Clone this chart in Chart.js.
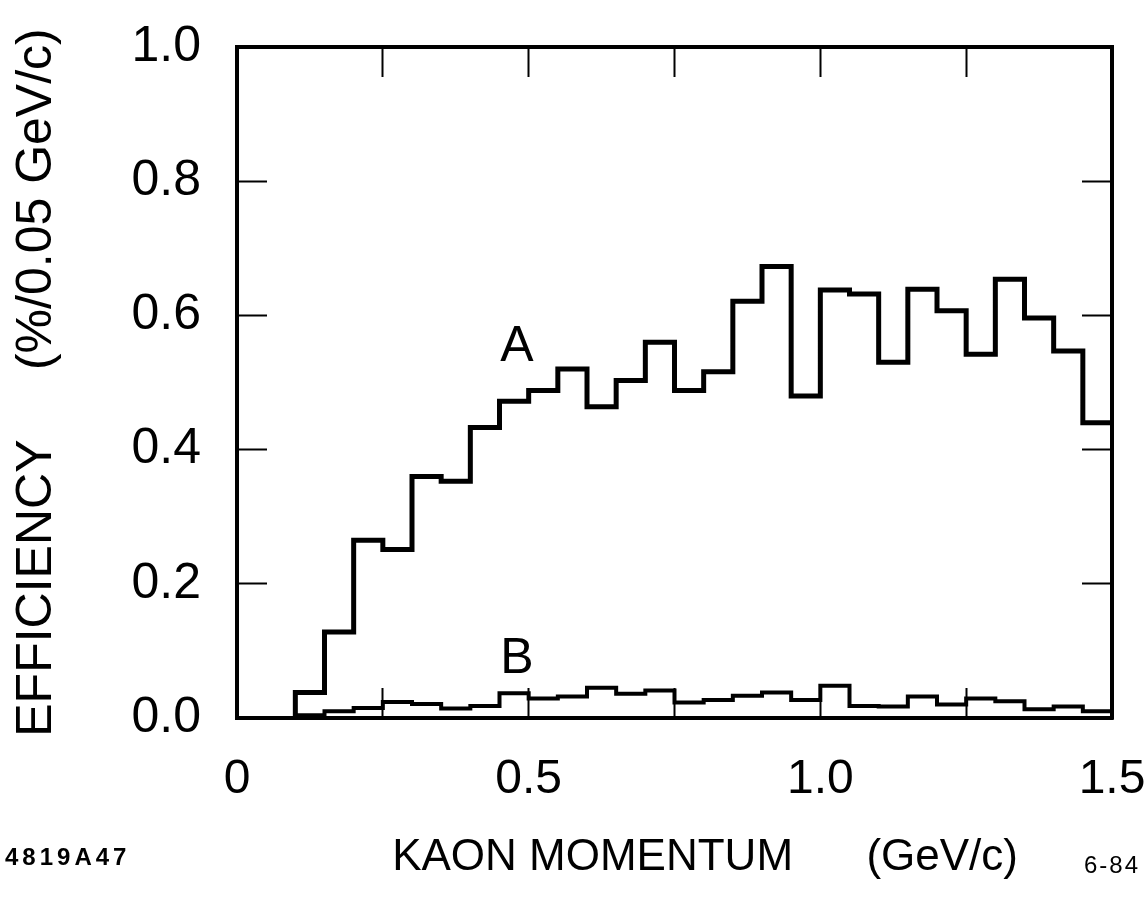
<!DOCTYPE html>
<html>
<head>
<meta charset="utf-8">
<title>Kaon momentum efficiency</title>
<script src="https://cdn.jsdelivr.net/npm/chart.js@4.4.1/dist/chart.umd.min.js"></script>
<style>
  html, body { margin: 0; padding: 0; background: #fff; }
  canvas { display: block; }
</style>
</head>
<body>
<canvas id="chart" width="1146" height="897"></canvas>
<script>
// ─── Data ─────────────────────────────────────────────────────────────────────

// lower edges of the 0.05 GeV/c bins, plus the last upper edge
const BIN_EDGES = [0.10, 0.15, 0.20, 0.25, 0.30, 0.35, 0.40, 0.45, 0.50, 0.55,
                   0.60, 0.65, 0.70, 0.75, 0.80, 0.85, 0.90, 0.95, 1.00, 1.05,
                   1.10, 1.15, 1.20, 1.25, 1.30, 1.35, 1.40, 1.45, 1.50];

const EFF_A = [0.038, 0.128, 0.265, 0.251, 0.360, 0.353, 0.433, 0.472, 0.488, 0.520,
               0.464, 0.503, 0.560, 0.488, 0.516, 0.621, 0.673, 0.480, 0.638, 0.632,
               0.530, 0.639, 0.607, 0.542, 0.654, 0.596, 0.547, 0.440];

const EFF_B = [0.004, 0.010, 0.015, 0.024, 0.021, 0.014, 0.018, 0.037, 0.029, 0.032,
               0.045, 0.036, 0.041, 0.023, 0.027, 0.033, 0.038, 0.027, 0.048, 0.018,
               0.017, 0.032, 0.020, 0.029, 0.025, 0.013, 0.017, 0.010];

const X_LABEL_VALUES = [0, 0.5, 1.0, 1.5];
const X_LABEL_TEXT   = ["0", "0.5", "1.0", "1.5"];

// curve labels, in data units
const CURVE_LABELS = [
  { text: "A", x: 0.48, y: 0.553 },
  { text: "B", x: 0.48, y: 0.087 },
];

const FONT = "'Liberation Sans', Arial, sans-serif";
const INK = "#000";

// ─── Helpers ──────────────────────────────────────────────────────────────────

function histPoints(values) {
  const last = values.length - 1;
  const pts = [{ x: BIN_EDGES[0], y: 0 }];
  values.forEach((v, i) => pts.push({ x: BIN_EDGES[i], y: v }));
  pts.push({ x: BIN_EDGES[last + 1], y: values[last] });
  return pts;
}

// pin an axis box to a fixed size and drop the label overhang padding
function fixedSize(prop, size) {
  return (scale) => {
    scale[prop] = size;
    scale.paddingLeft = scale.paddingRight = 0;
    scale.paddingTop = scale.paddingBottom = 0;
  };
}

// inward tick marks only, no grid lines
function frameGrid() {
  return {
    drawOnChartArea: false,
    drawTicks: true,
    tickLength: -30,
    tickWidth: 2,
    tickColor: INK,
  };
}

const BORDER = { display: true, color: INK, width: 4 };

// ─── Extra text (curve labels, figure codes) ──────────────────────────────────

const textPlugin = {
  id: "figureText",
  afterDatasetsDraw(chart) {
    const { ctx, scales } = chart;
    ctx.save();
    ctx.fillStyle = INK;
    ctx.textAlign = "center";
    ctx.textBaseline = "middle";
    ctx.font = `50px ${FONT}`;
    CURVE_LABELS.forEach((l) => {
      ctx.fillText(l.text, scales.x.getPixelForValue(l.x), scales.y.getPixelForValue(l.y));
    });
    ctx.textAlign = "left";
    ctx.letterSpacing = "4px";
    ctx.font = `bold 24px ${FONT}`;
    ctx.fillText("4819A47", 5, 858);
    ctx.letterSpacing = "2px";
    ctx.font = `24px ${FONT}`;
    ctx.fillText("6-84", 1084, 866);
    ctx.restore();
  },
};

// ─── Chart ────────────────────────────────────────────────────────────────────

new Chart(document.getElementById("chart").getContext("2d"), {
  type: "line",
  data: {
    datasets: [
      {
        label: "A",
        data: histPoints(EFF_A),
        borderColor: INK,
        borderWidth: 5,
        stepped: "before",
        pointRadius: 0,
        fill: false,
      },
      {
        label: "B",
        data: histPoints(EFF_B),
        borderColor: INK,
        borderWidth: 4,
        stepped: "before",
        pointRadius: 0,
        fill: false,
      },
    ],
  },
  options: {
    responsive: false,
    animation: false,
    layout: { padding: 0 },
    plugins: {
      legend: { display: false },
      tooltip: { enabled: false },
    },
    scales: {
      x: {
        type: "linear",
        position: "bottom",
        min: 0,
        max: 1.5,
        afterFit: fixedSize("height", 179),
        border: BORDER,
        grid: frameGrid(),
        ticks: {
          stepSize: 0.25,
          autoSkip: false,
          maxRotation: 0,
          padding: 63,
          color: INK,
          font: { family: FONT, size: 48 },
          callback: (v) => {
            const i = X_LABEL_VALUES.findIndex((t) => Math.abs(t - v) < 1e-6);
            return i >= 0 ? X_LABEL_TEXT[i] : "";
          },
        },
        title: {
          display: true,
          text: "     KAON MOMENTUM      (GeV/c)",
          color: INK,
          font: { family: FONT, size: 44, lineHeight: 1 },
          padding: { top: 0, bottom: 17 },
        },
      },
      xTop: {
        type: "linear",
        position: "top",
        min: 0,
        max: 1.5,
        afterFit: fixedSize("height", 47),
        border: BORDER,
        grid: frameGrid(),
        ticks: { stepSize: 0.25, display: false },
      },
      y: {
        type: "linear",
        position: "left",
        min: 0,
        max: 1.0,
        afterFit: fixedSize("width", 237),
        border: BORDER,
        grid: frameGrid(),
        ticks: {
          stepSize: 0.2,
          padding: 66,
          color: INK,
          font: { family: FONT, size: 50 },
          callback: (v) => v.toFixed(1),
        },
        title: {
          display: true,
          text: "EFFICIENCY     (%/0.05 GeV/c)",
          color: INK,
          font: { family: FONT, size: 50, lineHeight: 1 },
          padding: { top: 12, bottom: 0 },
        },
      },
      yRight: {
        type: "linear",
        position: "right",
        min: 0,
        max: 1.0,
        afterFit: fixedSize("width", 34),
        border: BORDER,
        grid: frameGrid(),
        ticks: { stepSize: 0.2, display: false },
      },
    },
  },
  plugins: [textPlugin],
});
</script>
</body>
</html>
